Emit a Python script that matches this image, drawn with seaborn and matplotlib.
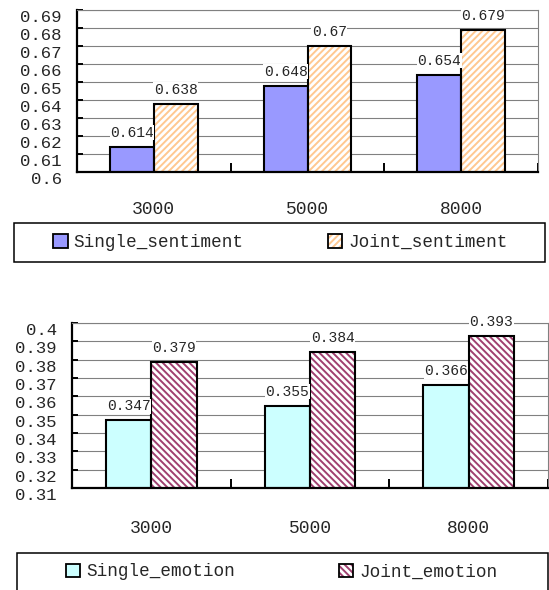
import matplotlib
matplotlib.use("Agg")
import matplotlib.pyplot as plt
import seaborn as sns
import pandas as pd
from matplotlib.patches import Patch, Rectangle
from matplotlib.ticker import FixedLocator

# Corpus sizes on the x axis
categories = ["3000", "5000", "8000"]

# Sentiment task scores
single_sentiment = [0.614, 0.648, 0.654]
joint_sentiment = [0.638, 0.67, 0.679]

# Emotion task scores
single_emotion = [0.347, 0.355, 0.366]
joint_emotion = [0.379, 0.384, 0.393]

sentiment_names = ["Single_sentiment", "Joint_sentiment"]
emotion_names = ["Single_emotion", "Joint_emotion"]

sentiment_ticks = [0.6, 0.61, 0.62, 0.63, 0.64, 0.65, 0.66, 0.67, 0.68, 0.69]
emotion_ticks = [0.31, 0.32, 0.33, 0.34, 0.35, 0.36, 0.37, 0.38, 0.39, 0.4]

sns.set_style("white")
plt.rcParams["font.family"] = ["Liberation Mono", "DejaVu Sans Mono"]
plt.rcParams["hatch.linewidth"] = 1.4

W, H = 549, 590
fig = plt.figure(figsize=(W / 100, H / 100), dpi=100)


def fig_rect(left, top, right, bottom):
    """Convert pixel box (from top-left) to figure fraction [l, b, w, h]."""
    return [left / W, 1 - bottom / H, (right - left) / W, (bottom - top) / H]


def draw_panel(ax, single, joint, names, single_color, hatch_color, hatch,
               ticks, xpad):
    df = pd.DataFrame({
        "size": categories * 2,
        "score": list(single) + list(joint),
        "series": [names[0]] * len(single) + [names[1]] * len(joint),
    })
    common = dict(data=df, x="size", y="score", hue="series", order=categories,
                  hue_order=names, width=0.57, ax=ax, legend=False,
                  errorbar=None, saturation=1)
    # filled bars (joint bars get a coloured hatch)
    sns.barplot(palette=[single_color, "white"], linewidth=0, **common)
    for bar in ax.containers[1]:
        bar.set_hatch(hatch)
        bar.set_edgecolor(hatch_color)
    # black outlines on top
    sns.barplot(palette=["black", "black"], fill=False, linewidth=1.5, **common)

    for cont, vals in zip(ax.containers[2:4], [single, joint]):
        ax.bar_label(cont, labels=[f"{v:g}" for v in vals], padding=5,
                     fontsize=10.5,
                     bbox=dict(facecolor="white", edgecolor="none", pad=0.3))

    ax.set_xlim(-0.5, len(categories) - 0.5)
    ax.set_ylim(ticks[0], ticks[-1])
    ax.set_yticks(ticks)
    ax.set_yticklabels([f"{t:g}" for t in ticks], va="top")
    ax.yaxis.grid(True, color="#808080", linewidth=0.8)
    ax.set_axisbelow(True)
    ax.set_xlabel("")
    ax.set_ylabel("")

    ax.tick_params(axis="y", left=True, direction="in", length=4, width=1.4,
                   color="black", pad=11, labelsize=12.5)
    ax.tick_params(axis="x", which="major", bottom=False, length=0, pad=xpad,
                   labelsize=13)
    ax.xaxis.set_minor_locator(
        FixedLocator([i - 0.5 for i in range(len(categories) + 1)]))
    ax.tick_params(axis="x", which="minor", bottom=True, direction="in",
                   length=6.5, width=1.4, color="black")

    for side in ("left", "bottom"):
        ax.spines[side].set_color("black")
        ax.spines[side].set_linewidth(1.6)
    for side in ("top", "right"):
        ax.spines[side].set_color("#808080")
        ax.spines[side].set_linewidth(0.8)

    handles = [
        Patch(facecolor=single_color, edgecolor="black", linewidth=1.3),
        (Patch(facecolor="white", edgecolor=hatch_color, hatch=hatch, linewidth=0),
         Patch(fill=False, edgecolor="black", linewidth=1.3)),
    ]
    return handles


# Sentiment panel
ax1 = fig.add_axes(fig_rect(77, 10, 538, 172))
h1 = draw_panel(ax1, single_sentiment, joint_sentiment, sentiment_names,
                "#9999FF", "#FFC890", "/////", sentiment_ticks, 21)
fig.add_artist(Rectangle((14 / W, 1 - 262 / H), 531 / W, 39 / H,
                         transform=fig.transFigure, fill=False,
                         edgecolor="black", linewidth=1.1))
fig.legend(h1, sentiment_names, loc="center",
           bbox_to_anchor=(280.5 / W, 1 - 242.5 / H), ncol=2, frameon=False,
           fontsize=12.7, handlelength=0.8, handleheight=0.8,
           handletextpad=0.35, columnspacing=4.77, borderpad=0,
           borderaxespad=0)

# Emotion panel
ax2 = fig.add_axes(fig_rect(72, 323, 548, 488))
h2 = draw_panel(ax2, single_emotion, joint_emotion, emotion_names,
                "#CCFFFF", "#A04070", "\\\\\\\\\\", emotion_ticks, 23)
fig.add_artist(Rectangle((17 / W, 1 - 592 / H), 531 / W, 39 / H,
                         transform=fig.transFigure, fill=False,
                         edgecolor="black", linewidth=1.1))
fig.legend(h2, emotion_names, loc="center",
           bbox_to_anchor=(282 / W, 1 - 572 / H), ncol=2, frameon=False,
           fontsize=12.7, handlelength=0.8, handleheight=0.8,
           handletextpad=0.35, columnspacing=5.9, borderpad=0,
           borderaxespad=0)

fig.savefig("out.png", dpi=100)
